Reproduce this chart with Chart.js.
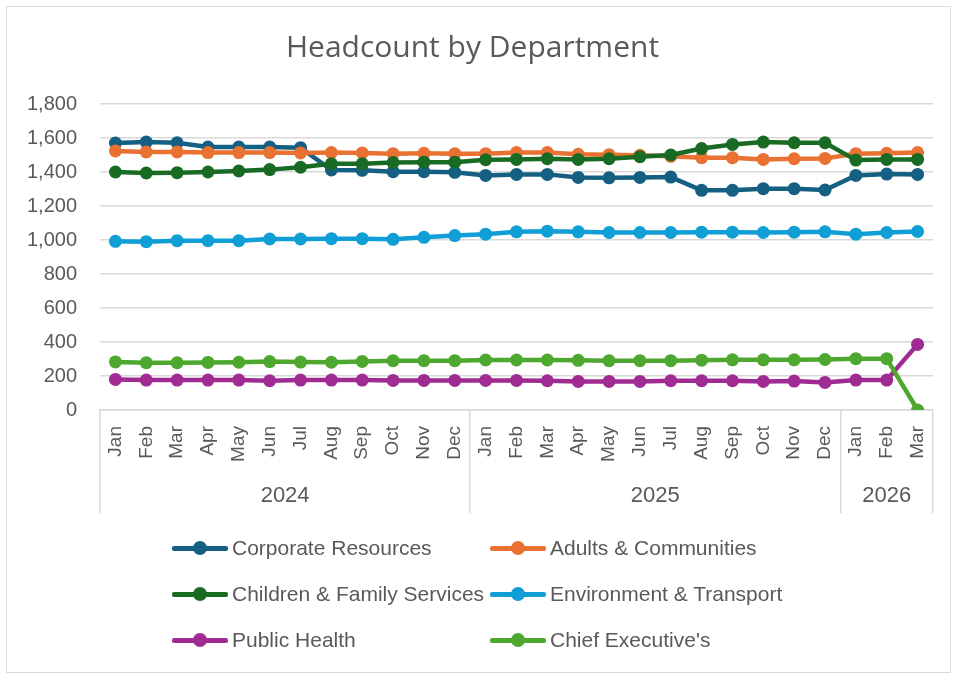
<!DOCTYPE html>
<html>
<head>
<meta charset="utf-8">
<script src="https://cdn.jsdelivr.net/npm/chart.js@4"></script>
<style>
  html, body { margin: 0; padding: 0; background: #fff; }
  #wrap { position: relative; width: 955px; height: 673px; }
  #frame { position: absolute; left: 6px; top: 6px; width: 945px; height: 667px; border: 1px solid #d9d9d9; box-sizing: border-box; }
  #chart { position: absolute; left: 0; top: 0; }
  #legend { position: absolute; left: 172px; top: 525px; display: grid; grid-template-columns: 318px 318px; grid-auto-rows: 46px;
            font: 21px "Liberation Sans", Arial, sans-serif; color: #595959; }
  .item { display: flex; align-items: center; white-space: nowrap; }
  .icon { position: relative; width: 56px; height: 14px; margin-right: 4px; flex: none; }
  .icon .ln { position: absolute; left: 0; right: 0; top: 5px; height: 4.5px; border-radius: 2px; }
  .icon .dt { position: absolute; left: 21px; top: 0; width: 14px; height: 14px; border-radius: 50%; }
</style>
</head>
<body>
<div id="wrap">
  <div id="frame"></div>
  <canvas id="chart" width="955" height="673"></canvas>
  <div id="legend"></div>
</div>
<script>
// month ticks, grouped by year underneath
const monthLabels = [
  'Jan','Feb','Mar','Apr','May','Jun','Jul','Aug','Sep','Oct','Nov','Dec',
  'Jan','Feb','Mar','Apr','May','Jun','Jul','Aug','Sep','Oct','Nov','Dec',
  'Jan','Feb','Mar'
];
const years = ['2024', '2025', '2026'];
const monthsPerYear = [12, 12, 3];

const corporateResources = [1570, 1576, 1572, 1547, 1547, 1547, 1543, 1412, 1410, 1402, 1402, 1398,
                            1380, 1386, 1386, 1368, 1366, 1368, 1370, 1292, 1292, 1302, 1302, 1294,
                            1380, 1388, 1386];
const adultsCommunities = [1524, 1518, 1518, 1514, 1514, 1514, 1512, 1514, 1512, 1508, 1510, 1508,
                           1508, 1514, 1514, 1504, 1502, 1498, 1492, 1484, 1484, 1474, 1478, 1480,
                           1508, 1510, 1514];
const childrenFamily = [1400, 1394, 1396, 1400, 1406, 1414, 1428, 1448, 1448, 1456, 1458, 1458,
                        1472, 1474, 1478, 1474, 1478, 1490, 1500, 1538, 1562, 1576, 1572, 1572,
                        1470, 1474, 1474];
const environmentTransport = [992, 990, 996, 996, 996, 1006, 1006, 1008, 1008, 1004, 1016, 1026,
                              1034, 1048, 1052, 1048, 1044, 1044, 1044, 1046, 1046, 1044, 1046, 1048,
                              1034, 1044, 1050];
const publicHealth = [180, 176, 176, 176, 176, 172, 176, 176, 176, 174, 174, 174,
                      174, 174, 172, 168, 168, 168, 172, 172, 172, 168, 170, 162,
                      176, 176, 386];
const chiefExecutives = [283, 278, 278, 280, 281, 285, 282, 281, 286, 290, 290, 290,
                         294, 294, 294, 292, 290, 290, 290, 293, 295, 295, 295, 297,
                         302, 302, 0];

const seriesNames = ['Corporate Resources', 'Adults & Communities', 'Children & Family Services',
                     'Environment & Transport', 'Public Health', "Chief Executive's"];
const seriesValues = [corporateResources, adultsCommunities, childrenFamily,
                      environmentTransport, publicHealth, chiefExecutives];
const seriesColors = ['#156082', '#E97132', '#196B24', '#0F9ED5', '#A02B93', '#4EA72E'];

const yTicks = { min: 0, max: 1800, step: 200 };

// year group boundaries / centres on the category index scale
const cum = [0];
monthsPerYear.forEach(n => cum.push(cum[cum.length - 1] + n));
const boundaries = cum.map(c => c - 0.5);
const yearCentres = years.map((y, k) => (cum[k] + cum[k + 1] - 1) / 2);

const grey = '#d9d9d9';
const textGrey = '#595959';

const datasets = seriesNames.map((name, i) => ({
  label: name,
  data: seriesValues[i],
  borderColor: seriesColors[i],
  backgroundColor: seriesColors[i],
  pointBackgroundColor: seriesColors[i],
  pointBorderColor: seriesColors[i],
  borderWidth: 4.5,
  pointRadius: 6.5,
  pointBorderWidth: 0,
  tension: 0,
  order: seriesNames.length - i   // later series on top, like Excel
}));

const chart = new Chart(document.getElementById('chart'), {
  type: 'line',
  data: { labels: monthLabels, datasets: datasets },
  options: {
    responsive: false,
    animation: false,
    layout: { padding: { left: 12, right: 22, top: 0, bottom: 160 } },
    plugins: {
      legend: { display: false },
      tooltip: { enabled: false },
      title: {
        display: true,
        text: 'Headcount by Department',
        color: textGrey,
        font: { family: '"Open Sans", sans-serif', size: 30, weight: 'normal' },
        padding: { top: 30, bottom: 38 }
      }
    },
    scales: {
      y: {
        min: yTicks.min, max: yTicks.max,
        ticks: { stepSize: yTicks.step, color: textGrey, padding: 23,
                 font: { family: '"Liberation Sans", Arial, sans-serif', size: 20 } },
        grid: { color: grey, lineWidth: 1.5, drawTicks: false },
        border: { display: false },
        afterFit: s => { s.width = 88; }
      },
      x: {
        type: 'category',
        offset: true,
        weight: 0,
        ticks: { color: textGrey, minRotation: 90, maxRotation: 90, autoSkip: false, padding: -42,
                 font: { family: '"Liberation Sans", Arial, sans-serif', size: 19 } },
        grid: {
          offset: true, drawOnChartArea: false, drawTicks: true, tickLength: 58, lineWidth: 1.5,
          color: ctx => (ctx.index === undefined || cum.includes(ctx.index)) ? grey : 'rgba(0,0,0,0)'
        },
        border: { display: true, color: grey, width: 1.5 },
        afterFit: s => { s.height = 58; }
      },
      x2: {
        type: 'linear',
        position: 'bottom',
        weight: 1,
        min: boundaries[0], max: boundaries[boundaries.length - 1],
        afterBuildTicks: s => {
          s.ticks = boundaries.concat(yearCentres).sort((a, b) => a - b).map(v => ({ value: v }));
        },
        ticks: {
          autoSkip: false, maxRotation: 0, color: textGrey, padding: -30,
          font: { family: '"Liberation Sans", Arial, sans-serif', size: 22 },
          callback: v => { const k = yearCentres.indexOf(v); return k >= 0 ? years[k] : ''; }
        },
        grid: {
          drawOnChartArea: false, drawTicks: true, tickLength: 45, lineWidth: 1.5,
          color: ctx => (ctx.tick && boundaries.includes(ctx.tick.value)) ? grey : 'rgba(0,0,0,0)'
        },
        border: { display: false },
        afterFit: s => { s.height = 45; }
      }
    }
  }
});

// legend laid out in two columns like the source
const legend = document.getElementById('legend');
chart.data.datasets.forEach(ds => {
  const item = document.createElement('div');
  item.className = 'item';
  item.innerHTML = '<span class="icon"><span class="ln"></span><span class="dt"></span></span>';
  item.querySelector('.ln').style.background = ds.borderColor;
  item.querySelector('.dt').style.background = ds.borderColor;
  item.appendChild(document.createTextNode(ds.label));
  legend.appendChild(item);
});
</script>
</body>
</html>
